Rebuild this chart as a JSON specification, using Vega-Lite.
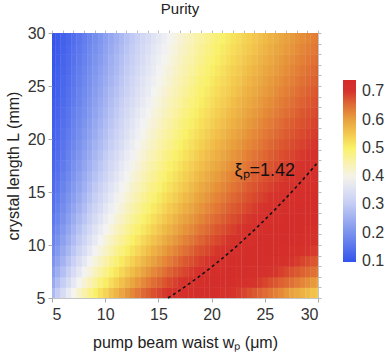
{
"$schema": "https://vega.github.io/schema/vega-lite/v6.json",
"width": 266, "height": 265,
"autosize": {"type": "none"},
"padding": {"left": 52, "top": 33, "right": 72, "bottom": 58},
"background": "white",
"config": {
 "font": "Liberation Sans",
 "view": {"stroke": "#c4c4c4", "strokeWidth": 1},
 "axis": {"labelFontSize": 16, "labelColor": "#333", "titleFontSize": 16, "titleFontWeight": "normal", "titleColor": "#222", "tickColor": "#aaa", "tickSize": 4, "domain": false, "grid": false}
},
"title": {"text": "Purity", "fontSize": 15, "fontWeight": "normal", "color": "#222", "offset": 8, "dx": -5},
"resolve": {"axis": {"x": "independent", "y": "independent"}},
"layer": [
{
"data": {"values": [
{"w":4.75,"L":5,"p":0.268},{"w":4.75,"L":6,"p":0.240},{"w":4.75,"L":7,"p":0.219},{"w":4.75,"L":8,"p":0.202},{"w":4.75,"L":9,"p":0.187},{"w":4.75,"L":10,"p":0.175},{"w":4.75,"L":11,"p":0.165},{"w":4.75,"L":12,"p":0.156},{"w":4.75,"L":13,"p":0.148},{"w":4.75,"L":14,"p":0.142},{"w":4.75,"L":15,"p":0.136},{"w":4.75,"L":16,"p":0.132},{"w":4.75,"L":17,"p":0.127},{"w":4.75,"L":18,"p":0.123},{"w":4.75,"L":19,"p":0.120},{"w":4.75,"L":20,"p":0.117},{"w":4.75,"L":21,"p":0.115},{"w":4.75,"L":22,"p":0.113},{"w":4.75,"L":23,"p":0.111},{"w":4.75,"L":24,"p":0.108},{"w":4.75,"L":25,"p":0.106},{"w":4.75,"L":26,"p":0.105},{"w":4.75,"L":27,"p":0.103},{"w":4.75,"L":28,"p":0.102},{"w":4.75,"L":29,"p":0.101},
{"w":5.25,"L":5,"p":0.303},{"w":5.25,"L":6,"p":0.273},{"w":5.25,"L":7,"p":0.248},{"w":5.25,"L":8,"p":0.229},{"w":5.25,"L":9,"p":0.212},{"w":5.25,"L":10,"p":0.199},{"w":5.25,"L":11,"p":0.187},{"w":5.25,"L":12,"p":0.176},{"w":5.25,"L":13,"p":0.168},{"w":5.25,"L":14,"p":0.161},{"w":5.25,"L":15,"p":0.154},{"w":5.25,"L":16,"p":0.147},{"w":5.25,"L":17,"p":0.142},{"w":5.25,"L":18,"p":0.138},{"w":5.25,"L":19,"p":0.133},{"w":5.25,"L":20,"p":0.129},{"w":5.25,"L":21,"p":0.126},{"w":5.25,"L":22,"p":0.123},{"w":5.25,"L":23,"p":0.120},{"w":5.25,"L":24,"p":0.118},{"w":5.25,"L":25,"p":0.116},{"w":5.25,"L":26,"p":0.114},{"w":5.25,"L":27,"p":0.112},{"w":5.25,"L":28,"p":0.110},{"w":5.25,"L":29,"p":0.109},
{"w":5.75,"L":5,"p":0.336},{"w":5.75,"L":6,"p":0.304},{"w":5.75,"L":7,"p":0.278},{"w":5.75,"L":8,"p":0.257},{"w":5.75,"L":9,"p":0.239},{"w":5.75,"L":10,"p":0.223},{"w":5.75,"L":11,"p":0.210},{"w":5.75,"L":12,"p":0.199},{"w":5.75,"L":13,"p":0.189},{"w":5.75,"L":14,"p":0.181},{"w":5.75,"L":15,"p":0.173},{"w":5.75,"L":16,"p":0.166},{"w":5.75,"L":17,"p":0.159},{"w":5.75,"L":18,"p":0.154},{"w":5.75,"L":19,"p":0.149},{"w":5.75,"L":20,"p":0.145},{"w":5.75,"L":21,"p":0.140},{"w":5.75,"L":22,"p":0.137},{"w":5.75,"L":23,"p":0.133},{"w":5.75,"L":24,"p":0.130},{"w":5.75,"L":25,"p":0.128},{"w":5.75,"L":26,"p":0.125},{"w":5.75,"L":27,"p":0.123},{"w":5.75,"L":28,"p":0.120},{"w":5.75,"L":29,"p":0.118},
{"w":6.25,"L":5,"p":0.368},{"w":6.25,"L":6,"p":0.335},{"w":6.25,"L":7,"p":0.308},{"w":6.25,"L":8,"p":0.285},{"w":6.25,"L":9,"p":0.265},{"w":6.25,"L":10,"p":0.247},{"w":6.25,"L":11,"p":0.233},{"w":6.25,"L":12,"p":0.221},{"w":6.25,"L":13,"p":0.210},{"w":6.25,"L":14,"p":0.201},{"w":6.25,"L":15,"p":0.192},{"w":6.25,"L":16,"p":0.184},{"w":6.25,"L":17,"p":0.176},{"w":6.25,"L":18,"p":0.170},{"w":6.25,"L":19,"p":0.165},{"w":6.25,"L":20,"p":0.160},{"w":6.25,"L":21,"p":0.154},{"w":6.25,"L":22,"p":0.150},{"w":6.25,"L":23,"p":0.145},{"w":6.25,"L":24,"p":0.142},{"w":6.25,"L":25,"p":0.139},{"w":6.25,"L":26,"p":0.136},{"w":6.25,"L":27,"p":0.133},{"w":6.25,"L":28,"p":0.130},{"w":6.25,"L":29,"p":0.127},
{"w":6.75,"L":5,"p":0.396},{"w":6.75,"L":6,"p":0.363},{"w":6.75,"L":7,"p":0.336},{"w":6.75,"L":8,"p":0.312},{"w":6.75,"L":9,"p":0.291},{"w":6.75,"L":10,"p":0.273},{"w":6.75,"L":11,"p":0.258},{"w":6.75,"L":12,"p":0.244},{"w":6.75,"L":13,"p":0.232},{"w":6.75,"L":14,"p":0.221},{"w":6.75,"L":15,"p":0.212},{"w":6.75,"L":16,"p":0.203},{"w":6.75,"L":17,"p":0.195},{"w":6.75,"L":18,"p":0.188},{"w":6.75,"L":19,"p":0.182},{"w":6.75,"L":20,"p":0.177},{"w":6.75,"L":21,"p":0.171},{"w":6.75,"L":22,"p":0.166},{"w":6.75,"L":23,"p":0.160},{"w":6.75,"L":24,"p":0.157},{"w":6.75,"L":25,"p":0.153},{"w":6.75,"L":26,"p":0.150},{"w":6.75,"L":27,"p":0.146},{"w":6.75,"L":28,"p":0.143},{"w":6.75,"L":29,"p":0.139},
{"w":7.25,"L":5,"p":0.423},{"w":7.25,"L":6,"p":0.391},{"w":7.25,"L":7,"p":0.363},{"w":7.25,"L":8,"p":0.338},{"w":7.25,"L":9,"p":0.317},{"w":7.25,"L":10,"p":0.298},{"w":7.25,"L":11,"p":0.282},{"w":7.25,"L":12,"p":0.267},{"w":7.25,"L":13,"p":0.253},{"w":7.25,"L":14,"p":0.241},{"w":7.25,"L":15,"p":0.231},{"w":7.25,"L":16,"p":0.222},{"w":7.25,"L":17,"p":0.213},{"w":7.25,"L":18,"p":0.206},{"w":7.25,"L":19,"p":0.199},{"w":7.25,"L":20,"p":0.193},{"w":7.25,"L":21,"p":0.187},{"w":7.25,"L":22,"p":0.181},{"w":7.25,"L":23,"p":0.175},{"w":7.25,"L":24,"p":0.171},{"w":7.25,"L":25,"p":0.167},{"w":7.25,"L":26,"p":0.163},{"w":7.25,"L":27,"p":0.159},{"w":7.25,"L":28,"p":0.155},{"w":7.25,"L":29,"p":0.151},
{"w":7.75,"L":5,"p":0.449},{"w":7.75,"L":6,"p":0.416},{"w":7.75,"L":7,"p":0.388},{"w":7.75,"L":8,"p":0.363},{"w":7.75,"L":9,"p":0.342},{"w":7.75,"L":10,"p":0.322},{"w":7.75,"L":11,"p":0.306},{"w":7.75,"L":12,"p":0.290},{"w":7.75,"L":13,"p":0.276},{"w":7.75,"L":14,"p":0.263},{"w":7.75,"L":15,"p":0.252},{"w":7.75,"L":16,"p":0.242},{"w":7.75,"L":17,"p":0.233},{"w":7.75,"L":18,"p":0.225},{"w":7.75,"L":19,"p":0.217},{"w":7.75,"L":20,"p":0.210},{"w":7.75,"L":21,"p":0.204},{"w":7.75,"L":22,"p":0.197},{"w":7.75,"L":23,"p":0.192},{"w":7.75,"L":24,"p":0.187},{"w":7.75,"L":25,"p":0.182},{"w":7.75,"L":26,"p":0.178},{"w":7.75,"L":27,"p":0.173},{"w":7.75,"L":28,"p":0.169},{"w":7.75,"L":29,"p":0.165},
{"w":8.25,"L":5,"p":0.475},{"w":8.25,"L":6,"p":0.440},{"w":8.25,"L":7,"p":0.412},{"w":8.25,"L":8,"p":0.388},{"w":8.25,"L":9,"p":0.366},{"w":8.25,"L":10,"p":0.346},{"w":8.25,"L":11,"p":0.329},{"w":8.25,"L":12,"p":0.313},{"w":8.25,"L":13,"p":0.298},{"w":8.25,"L":14,"p":0.285},{"w":8.25,"L":15,"p":0.273},{"w":8.25,"L":16,"p":0.262},{"w":8.25,"L":17,"p":0.252},{"w":8.25,"L":18,"p":0.243},{"w":8.25,"L":19,"p":0.235},{"w":8.25,"L":20,"p":0.227},{"w":8.25,"L":21,"p":0.220},{"w":8.25,"L":22,"p":0.213},{"w":8.25,"L":23,"p":0.208},{"w":8.25,"L":24,"p":0.202},{"w":8.25,"L":25,"p":0.197},{"w":8.25,"L":26,"p":0.192},{"w":8.25,"L":27,"p":0.187},{"w":8.25,"L":28,"p":0.183},{"w":8.25,"L":29,"p":0.178},
{"w":8.75,"L":5,"p":0.497},{"w":8.75,"L":6,"p":0.463},{"w":8.75,"L":7,"p":0.434},{"w":8.75,"L":8,"p":0.410},{"w":8.75,"L":9,"p":0.388},{"w":8.75,"L":10,"p":0.368},{"w":8.75,"L":11,"p":0.351},{"w":8.75,"L":12,"p":0.335},{"w":8.75,"L":13,"p":0.319},{"w":8.75,"L":14,"p":0.306},{"w":8.75,"L":15,"p":0.294},{"w":8.75,"L":16,"p":0.282},{"w":8.75,"L":17,"p":0.272},{"w":8.75,"L":18,"p":0.262},{"w":8.75,"L":19,"p":0.254},{"w":8.75,"L":20,"p":0.245},{"w":8.75,"L":21,"p":0.238},{"w":8.75,"L":22,"p":0.230},{"w":8.75,"L":23,"p":0.224},{"w":8.75,"L":24,"p":0.218},{"w":8.75,"L":25,"p":0.213},{"w":8.75,"L":26,"p":0.207},{"w":8.75,"L":27,"p":0.202},{"w":8.75,"L":28,"p":0.197},{"w":8.75,"L":29,"p":0.193},
{"w":9.25,"L":5,"p":0.518},{"w":9.25,"L":6,"p":0.486},{"w":9.25,"L":7,"p":0.456},{"w":9.25,"L":8,"p":0.431},{"w":9.25,"L":9,"p":0.409},{"w":9.25,"L":10,"p":0.390},{"w":9.25,"L":11,"p":0.372},{"w":9.25,"L":12,"p":0.356},{"w":9.25,"L":13,"p":0.340},{"w":9.25,"L":14,"p":0.327},{"w":9.25,"L":15,"p":0.314},{"w":9.25,"L":16,"p":0.302},{"w":9.25,"L":17,"p":0.291},{"w":9.25,"L":18,"p":0.281},{"w":9.25,"L":19,"p":0.272},{"w":9.25,"L":20,"p":0.263},{"w":9.25,"L":21,"p":0.255},{"w":9.25,"L":22,"p":0.247},{"w":9.25,"L":23,"p":0.240},{"w":9.25,"L":24,"p":0.234},{"w":9.25,"L":25,"p":0.228},{"w":9.25,"L":26,"p":0.222},{"w":9.25,"L":27,"p":0.216},{"w":9.25,"L":28,"p":0.211},{"w":9.25,"L":29,"p":0.207},
{"w":9.75,"L":5,"p":0.537},{"w":9.75,"L":6,"p":0.505},{"w":9.75,"L":7,"p":0.477},{"w":9.75,"L":8,"p":0.452},{"w":9.75,"L":9,"p":0.429},{"w":9.75,"L":10,"p":0.410},{"w":9.75,"L":11,"p":0.392},{"w":9.75,"L":12,"p":0.376},{"w":9.75,"L":13,"p":0.360},{"w":9.75,"L":14,"p":0.347},{"w":9.75,"L":15,"p":0.334},{"w":9.75,"L":16,"p":0.321},{"w":9.75,"L":17,"p":0.310},{"w":9.75,"L":18,"p":0.300},{"w":9.75,"L":19,"p":0.290},{"w":9.75,"L":20,"p":0.281},{"w":9.75,"L":21,"p":0.273},{"w":9.75,"L":22,"p":0.265},{"w":9.75,"L":23,"p":0.257},{"w":9.75,"L":24,"p":0.251},{"w":9.75,"L":25,"p":0.244},{"w":9.75,"L":26,"p":0.238},{"w":9.75,"L":27,"p":0.232},{"w":9.75,"L":28,"p":0.226},{"w":9.75,"L":29,"p":0.222},
{"w":10.25,"L":5,"p":0.556},{"w":10.25,"L":6,"p":0.524},{"w":10.25,"L":7,"p":0.497},{"w":10.25,"L":8,"p":0.472},{"w":10.25,"L":9,"p":0.449},{"w":10.25,"L":10,"p":0.429},{"w":10.25,"L":11,"p":0.411},{"w":10.25,"L":12,"p":0.395},{"w":10.25,"L":13,"p":0.379},{"w":10.25,"L":14,"p":0.366},{"w":10.25,"L":15,"p":0.353},{"w":10.25,"L":16,"p":0.340},{"w":10.25,"L":17,"p":0.329},{"w":10.25,"L":18,"p":0.318},{"w":10.25,"L":19,"p":0.308},{"w":10.25,"L":20,"p":0.299},{"w":10.25,"L":21,"p":0.290},{"w":10.25,"L":22,"p":0.282},{"w":10.25,"L":23,"p":0.274},{"w":10.25,"L":24,"p":0.267},{"w":10.25,"L":25,"p":0.259},{"w":10.25,"L":26,"p":0.253},{"w":10.25,"L":27,"p":0.247},{"w":10.25,"L":28,"p":0.241},{"w":10.25,"L":29,"p":0.236},
{"w":10.75,"L":5,"p":0.575},{"w":10.75,"L":6,"p":0.542},{"w":10.75,"L":7,"p":0.514},{"w":10.75,"L":8,"p":0.490},{"w":10.75,"L":9,"p":0.468},{"w":10.75,"L":10,"p":0.448},{"w":10.75,"L":11,"p":0.429},{"w":10.75,"L":12,"p":0.413},{"w":10.75,"L":13,"p":0.397},{"w":10.75,"L":14,"p":0.384},{"w":10.75,"L":15,"p":0.371},{"w":10.75,"L":16,"p":0.358},{"w":10.75,"L":17,"p":0.347},{"w":10.75,"L":18,"p":0.336},{"w":10.75,"L":19,"p":0.326},{"w":10.75,"L":20,"p":0.316},{"w":10.75,"L":21,"p":0.307},{"w":10.75,"L":22,"p":0.299},{"w":10.75,"L":23,"p":0.291},{"w":10.75,"L":24,"p":0.283},{"w":10.75,"L":25,"p":0.276},{"w":10.75,"L":26,"p":0.269},{"w":10.75,"L":27,"p":0.263},{"w":10.75,"L":28,"p":0.257},{"w":10.75,"L":29,"p":0.251},
{"w":11.25,"L":5,"p":0.593},{"w":11.25,"L":6,"p":0.559},{"w":11.25,"L":7,"p":0.531},{"w":11.25,"L":8,"p":0.508},{"w":11.25,"L":9,"p":0.486},{"w":11.25,"L":10,"p":0.466},{"w":11.25,"L":11,"p":0.447},{"w":11.25,"L":12,"p":0.430},{"w":11.25,"L":13,"p":0.415},{"w":11.25,"L":14,"p":0.401},{"w":11.25,"L":15,"p":0.388},{"w":11.25,"L":16,"p":0.376},{"w":11.25,"L":17,"p":0.365},{"w":11.25,"L":18,"p":0.354},{"w":11.25,"L":19,"p":0.343},{"w":11.25,"L":20,"p":0.333},{"w":11.25,"L":21,"p":0.324},{"w":11.25,"L":22,"p":0.316},{"w":11.25,"L":23,"p":0.307},{"w":11.25,"L":24,"p":0.299},{"w":11.25,"L":25,"p":0.292},{"w":11.25,"L":26,"p":0.285},{"w":11.25,"L":27,"p":0.279},{"w":11.25,"L":28,"p":0.272},{"w":11.25,"L":29,"p":0.266},
{"w":11.75,"L":5,"p":0.609},{"w":11.75,"L":6,"p":0.576},{"w":11.75,"L":7,"p":0.548},{"w":11.75,"L":8,"p":0.524},{"w":11.75,"L":9,"p":0.502},{"w":11.75,"L":10,"p":0.483},{"w":11.75,"L":11,"p":0.464},{"w":11.75,"L":12,"p":0.447},{"w":11.75,"L":13,"p":0.432},{"w":11.75,"L":14,"p":0.418},{"w":11.75,"L":15,"p":0.405},{"w":11.75,"L":16,"p":0.392},{"w":11.75,"L":17,"p":0.381},{"w":11.75,"L":18,"p":0.370},{"w":11.75,"L":19,"p":0.360},{"w":11.75,"L":20,"p":0.350},{"w":11.75,"L":21,"p":0.341},{"w":11.75,"L":22,"p":0.332},{"w":11.75,"L":23,"p":0.323},{"w":11.75,"L":24,"p":0.315},{"w":11.75,"L":25,"p":0.308},{"w":11.75,"L":26,"p":0.301},{"w":11.75,"L":27,"p":0.294},{"w":11.75,"L":28,"p":0.288},{"w":11.75,"L":29,"p":0.281},
{"w":12.25,"L":5,"p":0.625},{"w":12.25,"L":6,"p":0.593},{"w":12.25,"L":7,"p":0.564},{"w":12.25,"L":8,"p":0.539},{"w":12.25,"L":9,"p":0.518},{"w":12.25,"L":10,"p":0.499},{"w":12.25,"L":11,"p":0.481},{"w":12.25,"L":12,"p":0.464},{"w":12.25,"L":13,"p":0.448},{"w":12.25,"L":14,"p":0.434},{"w":12.25,"L":15,"p":0.421},{"w":12.25,"L":16,"p":0.408},{"w":12.25,"L":17,"p":0.397},{"w":12.25,"L":18,"p":0.386},{"w":12.25,"L":19,"p":0.376},{"w":12.25,"L":20,"p":0.366},{"w":12.25,"L":21,"p":0.357},{"w":12.25,"L":22,"p":0.348},{"w":12.25,"L":23,"p":0.339},{"w":12.25,"L":24,"p":0.331},{"w":12.25,"L":25,"p":0.324},{"w":12.25,"L":26,"p":0.316},{"w":12.25,"L":27,"p":0.309},{"w":12.25,"L":28,"p":0.303},{"w":12.25,"L":29,"p":0.296},
{"w":12.75,"L":5,"p":0.640},{"w":12.75,"L":6,"p":0.608},{"w":12.75,"L":7,"p":0.580},{"w":12.75,"L":8,"p":0.555},{"w":12.75,"L":9,"p":0.533},{"w":12.75,"L":10,"p":0.514},{"w":12.75,"L":11,"p":0.496},{"w":12.75,"L":12,"p":0.480},{"w":12.75,"L":13,"p":0.464},{"w":12.75,"L":14,"p":0.450},{"w":12.75,"L":15,"p":0.436},{"w":12.75,"L":16,"p":0.424},{"w":12.75,"L":17,"p":0.412},{"w":12.75,"L":18,"p":0.401},{"w":12.75,"L":19,"p":0.391},{"w":12.75,"L":20,"p":0.381},{"w":12.75,"L":21,"p":0.372},{"w":12.75,"L":22,"p":0.363},{"w":12.75,"L":23,"p":0.354},{"w":12.75,"L":24,"p":0.346},{"w":12.75,"L":25,"p":0.339},{"w":12.75,"L":26,"p":0.331},{"w":12.75,"L":27,"p":0.324},{"w":12.75,"L":28,"p":0.318},{"w":12.75,"L":29,"p":0.311},
{"w":13.25,"L":5,"p":0.655},{"w":13.25,"L":6,"p":0.623},{"w":13.25,"L":7,"p":0.595},{"w":13.25,"L":8,"p":0.571},{"w":13.25,"L":9,"p":0.548},{"w":13.25,"L":10,"p":0.529},{"w":13.25,"L":11,"p":0.511},{"w":13.25,"L":12,"p":0.495},{"w":13.25,"L":13,"p":0.480},{"w":13.25,"L":14,"p":0.465},{"w":13.25,"L":15,"p":0.451},{"w":13.25,"L":16,"p":0.439},{"w":13.25,"L":17,"p":0.427},{"w":13.25,"L":18,"p":0.416},{"w":13.25,"L":19,"p":0.406},{"w":13.25,"L":20,"p":0.396},{"w":13.25,"L":21,"p":0.387},{"w":13.25,"L":22,"p":0.378},{"w":13.25,"L":23,"p":0.369},{"w":13.25,"L":24,"p":0.361},{"w":13.25,"L":25,"p":0.354},{"w":13.25,"L":26,"p":0.346},{"w":13.25,"L":27,"p":0.339},{"w":13.25,"L":28,"p":0.332},{"w":13.25,"L":29,"p":0.325},
{"w":13.75,"L":5,"p":0.667},{"w":13.75,"L":6,"p":0.637},{"w":13.75,"L":7,"p":0.609},{"w":13.75,"L":8,"p":0.585},{"w":13.75,"L":9,"p":0.563},{"w":13.75,"L":10,"p":0.543},{"w":13.75,"L":11,"p":0.525},{"w":13.75,"L":12,"p":0.509},{"w":13.75,"L":13,"p":0.494},{"w":13.75,"L":14,"p":0.480},{"w":13.75,"L":15,"p":0.466},{"w":13.75,"L":16,"p":0.454},{"w":13.75,"L":17,"p":0.442},{"w":13.75,"L":18,"p":0.431},{"w":13.75,"L":19,"p":0.420},{"w":13.75,"L":20,"p":0.410},{"w":13.75,"L":21,"p":0.401},{"w":13.75,"L":22,"p":0.392},{"w":13.75,"L":23,"p":0.384},{"w":13.75,"L":24,"p":0.375},{"w":13.75,"L":25,"p":0.368},{"w":13.75,"L":26,"p":0.360},{"w":13.75,"L":27,"p":0.353},{"w":13.75,"L":28,"p":0.346},{"w":13.75,"L":29,"p":0.339},
{"w":14.25,"L":5,"p":0.679},{"w":14.25,"L":6,"p":0.650},{"w":14.25,"L":7,"p":0.623},{"w":14.25,"L":8,"p":0.599},{"w":14.25,"L":9,"p":0.577},{"w":14.25,"L":10,"p":0.556},{"w":14.25,"L":11,"p":0.538},{"w":14.25,"L":12,"p":0.523},{"w":14.25,"L":13,"p":0.508},{"w":14.25,"L":14,"p":0.494},{"w":14.25,"L":15,"p":0.481},{"w":14.25,"L":16,"p":0.468},{"w":14.25,"L":17,"p":0.456},{"w":14.25,"L":18,"p":0.445},{"w":14.25,"L":19,"p":0.434},{"w":14.25,"L":20,"p":0.424},{"w":14.25,"L":21,"p":0.415},{"w":14.25,"L":22,"p":0.406},{"w":14.25,"L":23,"p":0.398},{"w":14.25,"L":24,"p":0.389},{"w":14.25,"L":25,"p":0.381},{"w":14.25,"L":26,"p":0.374},{"w":14.25,"L":27,"p":0.367},{"w":14.25,"L":28,"p":0.360},{"w":14.25,"L":29,"p":0.353},
{"w":14.75,"L":5,"p":0.688},{"w":14.75,"L":6,"p":0.662},{"w":14.75,"L":7,"p":0.636},{"w":14.75,"L":8,"p":0.612},{"w":14.75,"L":9,"p":0.590},{"w":14.75,"L":10,"p":0.570},{"w":14.75,"L":11,"p":0.552},{"w":14.75,"L":12,"p":0.536},{"w":14.75,"L":13,"p":0.521},{"w":14.75,"L":14,"p":0.507},{"w":14.75,"L":15,"p":0.494},{"w":14.75,"L":16,"p":0.482},{"w":14.75,"L":17,"p":0.470},{"w":14.75,"L":18,"p":0.459},{"w":14.75,"L":19,"p":0.448},{"w":14.75,"L":20,"p":0.438},{"w":14.75,"L":21,"p":0.428},{"w":14.75,"L":22,"p":0.419},{"w":14.75,"L":23,"p":0.411},{"w":14.75,"L":24,"p":0.402},{"w":14.75,"L":25,"p":0.394},{"w":14.75,"L":26,"p":0.387},{"w":14.75,"L":27,"p":0.380},{"w":14.75,"L":28,"p":0.373},{"w":14.75,"L":29,"p":0.366},
{"w":15.25,"L":5,"p":0.696},{"w":15.25,"L":6,"p":0.674},{"w":15.25,"L":7,"p":0.648},{"w":15.25,"L":8,"p":0.624},{"w":15.25,"L":9,"p":0.603},{"w":15.25,"L":10,"p":0.584},{"w":15.25,"L":11,"p":0.565},{"w":15.25,"L":12,"p":0.548},{"w":15.25,"L":13,"p":0.533},{"w":15.25,"L":14,"p":0.520},{"w":15.25,"L":15,"p":0.507},{"w":15.25,"L":16,"p":0.495},{"w":15.25,"L":17,"p":0.483},{"w":15.25,"L":18,"p":0.472},{"w":15.25,"L":19,"p":0.461},{"w":15.25,"L":20,"p":0.451},{"w":15.25,"L":21,"p":0.441},{"w":15.25,"L":22,"p":0.432},{"w":15.25,"L":23,"p":0.423},{"w":15.25,"L":24,"p":0.415},{"w":15.25,"L":25,"p":0.407},{"w":15.25,"L":26,"p":0.400},{"w":15.25,"L":27,"p":0.393},{"w":15.25,"L":28,"p":0.386},{"w":15.25,"L":29,"p":0.379},
{"w":15.75,"L":5,"p":0.704},{"w":15.75,"L":6,"p":0.683},{"w":15.75,"L":7,"p":0.660},{"w":15.75,"L":8,"p":0.636},{"w":15.75,"L":9,"p":0.615},{"w":15.75,"L":10,"p":0.596},{"w":15.75,"L":11,"p":0.578},{"w":15.75,"L":12,"p":0.561},{"w":15.75,"L":13,"p":0.546},{"w":15.75,"L":14,"p":0.532},{"w":15.75,"L":15,"p":0.519},{"w":15.75,"L":16,"p":0.507},{"w":15.75,"L":17,"p":0.496},{"w":15.75,"L":18,"p":0.485},{"w":15.75,"L":19,"p":0.474},{"w":15.75,"L":20,"p":0.464},{"w":15.75,"L":21,"p":0.454},{"w":15.75,"L":22,"p":0.445},{"w":15.75,"L":23,"p":0.436},{"w":15.75,"L":24,"p":0.428},{"w":15.75,"L":25,"p":0.420},{"w":15.75,"L":26,"p":0.412},{"w":15.75,"L":27,"p":0.405},{"w":15.75,"L":28,"p":0.398},{"w":15.75,"L":29,"p":0.391},
{"w":16.25,"L":5,"p":0.711},{"w":16.25,"L":6,"p":0.691},{"w":16.25,"L":7,"p":0.672},{"w":16.25,"L":8,"p":0.648},{"w":16.25,"L":9,"p":0.627},{"w":16.25,"L":10,"p":0.608},{"w":16.25,"L":11,"p":0.590},{"w":16.25,"L":12,"p":0.574},{"w":16.25,"L":13,"p":0.558},{"w":16.25,"L":14,"p":0.543},{"w":16.25,"L":15,"p":0.531},{"w":16.25,"L":16,"p":0.519},{"w":16.25,"L":17,"p":0.508},{"w":16.25,"L":18,"p":0.497},{"w":16.25,"L":19,"p":0.487},{"w":16.25,"L":20,"p":0.477},{"w":16.25,"L":21,"p":0.467},{"w":16.25,"L":22,"p":0.457},{"w":16.25,"L":23,"p":0.448},{"w":16.25,"L":24,"p":0.440},{"w":16.25,"L":25,"p":0.432},{"w":16.25,"L":26,"p":0.424},{"w":16.25,"L":27,"p":0.417},{"w":16.25,"L":28,"p":0.410},{"w":16.25,"L":29,"p":0.403},
{"w":16.75,"L":5,"p":0.716},{"w":16.75,"L":6,"p":0.699},{"w":16.75,"L":7,"p":0.680},{"w":16.75,"L":8,"p":0.660},{"w":16.75,"L":9,"p":0.638},{"w":16.75,"L":10,"p":0.619},{"w":16.75,"L":11,"p":0.602},{"w":16.75,"L":12,"p":0.586},{"w":16.75,"L":13,"p":0.570},{"w":16.75,"L":14,"p":0.555},{"w":16.75,"L":15,"p":0.542},{"w":16.75,"L":16,"p":0.530},{"w":16.75,"L":17,"p":0.519},{"w":16.75,"L":18,"p":0.508},{"w":16.75,"L":19,"p":0.499},{"w":16.75,"L":20,"p":0.489},{"w":16.75,"L":21,"p":0.479},{"w":16.75,"L":22,"p":0.470},{"w":16.75,"L":23,"p":0.461},{"w":16.75,"L":24,"p":0.452},{"w":16.75,"L":25,"p":0.444},{"w":16.75,"L":26,"p":0.436},{"w":16.75,"L":27,"p":0.429},{"w":16.75,"L":28,"p":0.422},{"w":16.75,"L":29,"p":0.415},
{"w":17.25,"L":5,"p":0.720},{"w":17.25,"L":6,"p":0.706},{"w":17.25,"L":7,"p":0.688},{"w":17.25,"L":8,"p":0.671},{"w":17.25,"L":9,"p":0.649},{"w":17.25,"L":10,"p":0.630},{"w":17.25,"L":11,"p":0.613},{"w":17.25,"L":12,"p":0.597},{"w":17.25,"L":13,"p":0.582},{"w":17.25,"L":14,"p":0.567},{"w":17.25,"L":15,"p":0.553},{"w":17.25,"L":16,"p":0.541},{"w":17.25,"L":17,"p":0.530},{"w":17.25,"L":18,"p":0.519},{"w":17.25,"L":19,"p":0.510},{"w":17.25,"L":20,"p":0.500},{"w":17.25,"L":21,"p":0.491},{"w":17.25,"L":22,"p":0.482},{"w":17.25,"L":23,"p":0.473},{"w":17.25,"L":24,"p":0.464},{"w":17.25,"L":25,"p":0.456},{"w":17.25,"L":26,"p":0.448},{"w":17.25,"L":27,"p":0.441},{"w":17.25,"L":28,"p":0.433},{"w":17.25,"L":29,"p":0.427},
{"w":17.75,"L":5,"p":0.722},{"w":17.75,"L":6,"p":0.711},{"w":17.75,"L":7,"p":0.695},{"w":17.75,"L":8,"p":0.679},{"w":17.75,"L":9,"p":0.660},{"w":17.75,"L":10,"p":0.641},{"w":17.75,"L":11,"p":0.624},{"w":17.75,"L":12,"p":0.608},{"w":17.75,"L":13,"p":0.593},{"w":17.75,"L":14,"p":0.579},{"w":17.75,"L":15,"p":0.565},{"w":17.75,"L":16,"p":0.553},{"w":17.75,"L":17,"p":0.541},{"w":17.75,"L":18,"p":0.530},{"w":17.75,"L":19,"p":0.521},{"w":17.75,"L":20,"p":0.511},{"w":17.75,"L":21,"p":0.502},{"w":17.75,"L":22,"p":0.493},{"w":17.75,"L":23,"p":0.484},{"w":17.75,"L":24,"p":0.476},{"w":17.75,"L":25,"p":0.468},{"w":17.75,"L":26,"p":0.460},{"w":17.75,"L":27,"p":0.452},{"w":17.75,"L":28,"p":0.445},{"w":17.75,"L":29,"p":0.438},
{"w":18.25,"L":5,"p":0.723},{"w":18.25,"L":6,"p":0.716},{"w":18.25,"L":7,"p":0.702},{"w":18.25,"L":8,"p":0.686},{"w":18.25,"L":9,"p":0.671},{"w":18.25,"L":10,"p":0.651},{"w":18.25,"L":11,"p":0.634},{"w":18.25,"L":12,"p":0.618},{"w":18.25,"L":13,"p":0.603},{"w":18.25,"L":14,"p":0.590},{"w":18.25,"L":15,"p":0.576},{"w":18.25,"L":16,"p":0.564},{"w":18.25,"L":17,"p":0.551},{"w":18.25,"L":18,"p":0.541},{"w":18.25,"L":19,"p":0.531},{"w":18.25,"L":20,"p":0.521},{"w":18.25,"L":21,"p":0.512},{"w":18.25,"L":22,"p":0.503},{"w":18.25,"L":23,"p":0.495},{"w":18.25,"L":24,"p":0.487},{"w":18.25,"L":25,"p":0.479},{"w":18.25,"L":26,"p":0.471},{"w":18.25,"L":27,"p":0.463},{"w":18.25,"L":28,"p":0.456},{"w":18.25,"L":29,"p":0.449},
{"w":18.75,"L":5,"p":0.723},{"w":18.75,"L":6,"p":0.719},{"w":18.75,"L":7,"p":0.708},{"w":18.75,"L":8,"p":0.693},{"w":18.75,"L":9,"p":0.678},{"w":18.75,"L":10,"p":0.661},{"w":18.75,"L":11,"p":0.644},{"w":18.75,"L":12,"p":0.628},{"w":18.75,"L":13,"p":0.613},{"w":18.75,"L":14,"p":0.600},{"w":18.75,"L":15,"p":0.587},{"w":18.75,"L":16,"p":0.575},{"w":18.75,"L":17,"p":0.562},{"w":18.75,"L":18,"p":0.552},{"w":18.75,"L":19,"p":0.541},{"w":18.75,"L":20,"p":0.531},{"w":18.75,"L":21,"p":0.522},{"w":18.75,"L":22,"p":0.513},{"w":18.75,"L":23,"p":0.505},{"w":18.75,"L":24,"p":0.497},{"w":18.75,"L":25,"p":0.490},{"w":18.75,"L":26,"p":0.482},{"w":18.75,"L":27,"p":0.474},{"w":18.75,"L":28,"p":0.467},{"w":18.75,"L":29,"p":0.460},
{"w":19.25,"L":5,"p":0.723},{"w":19.25,"L":6,"p":0.722},{"w":19.25,"L":7,"p":0.713},{"w":19.25,"L":8,"p":0.699},{"w":19.25,"L":9,"p":0.685},{"w":19.25,"L":10,"p":0.671},{"w":19.25,"L":11,"p":0.654},{"w":19.25,"L":12,"p":0.638},{"w":19.25,"L":13,"p":0.623},{"w":19.25,"L":14,"p":0.610},{"w":19.25,"L":15,"p":0.597},{"w":19.25,"L":16,"p":0.585},{"w":19.25,"L":17,"p":0.573},{"w":19.25,"L":18,"p":0.562},{"w":19.25,"L":19,"p":0.551},{"w":19.25,"L":20,"p":0.541},{"w":19.25,"L":21,"p":0.532},{"w":19.25,"L":22,"p":0.523},{"w":19.25,"L":23,"p":0.515},{"w":19.25,"L":24,"p":0.507},{"w":19.25,"L":25,"p":0.500},{"w":19.25,"L":26,"p":0.492},{"w":19.25,"L":27,"p":0.485},{"w":19.25,"L":28,"p":0.478},{"w":19.25,"L":29,"p":0.471},
{"w":19.75,"L":5,"p":0.721},{"w":19.75,"L":6,"p":0.723},{"w":19.75,"L":7,"p":0.717},{"w":19.75,"L":8,"p":0.705},{"w":19.75,"L":9,"p":0.692},{"w":19.75,"L":10,"p":0.678},{"w":19.75,"L":11,"p":0.664},{"w":19.75,"L":12,"p":0.648},{"w":19.75,"L":13,"p":0.633},{"w":19.75,"L":14,"p":0.620},{"w":19.75,"L":15,"p":0.607},{"w":19.75,"L":16,"p":0.595},{"w":19.75,"L":17,"p":0.583},{"w":19.75,"L":18,"p":0.572},{"w":19.75,"L":19,"p":0.562},{"w":19.75,"L":20,"p":0.551},{"w":19.75,"L":21,"p":0.542},{"w":19.75,"L":22,"p":0.533},{"w":19.75,"L":23,"p":0.525},{"w":19.75,"L":24,"p":0.517},{"w":19.75,"L":25,"p":0.510},{"w":19.75,"L":26,"p":0.502},{"w":19.75,"L":27,"p":0.495},{"w":19.75,"L":28,"p":0.488},{"w":19.75,"L":29,"p":0.481},
{"w":20.25,"L":5,"p":0.718},{"w":20.25,"L":6,"p":0.724},{"w":20.25,"L":7,"p":0.720},{"w":20.25,"L":8,"p":0.711},{"w":20.25,"L":9,"p":0.698},{"w":20.25,"L":10,"p":0.685},{"w":20.25,"L":11,"p":0.673},{"w":20.25,"L":12,"p":0.657},{"w":20.25,"L":13,"p":0.642},{"w":20.25,"L":14,"p":0.629},{"w":20.25,"L":15,"p":0.616},{"w":20.25,"L":16,"p":0.604},{"w":20.25,"L":17,"p":0.593},{"w":20.25,"L":18,"p":0.582},{"w":20.25,"L":19,"p":0.572},{"w":20.25,"L":20,"p":0.561},{"w":20.25,"L":21,"p":0.551},{"w":20.25,"L":22,"p":0.542},{"w":20.25,"L":23,"p":0.534},{"w":20.25,"L":24,"p":0.526},{"w":20.25,"L":25,"p":0.519},{"w":20.25,"L":26,"p":0.511},{"w":20.25,"L":27,"p":0.504},{"w":20.25,"L":28,"p":0.497},{"w":20.25,"L":29,"p":0.491},
{"w":20.75,"L":5,"p":0.713},{"w":20.75,"L":6,"p":0.723},{"w":20.75,"L":7,"p":0.722},{"w":20.75,"L":8,"p":0.715},{"w":20.75,"L":9,"p":0.704},{"w":20.75,"L":10,"p":0.692},{"w":20.75,"L":11,"p":0.680},{"w":20.75,"L":12,"p":0.666},{"w":20.75,"L":13,"p":0.652},{"w":20.75,"L":14,"p":0.638},{"w":20.75,"L":15,"p":0.625},{"w":20.75,"L":16,"p":0.614},{"w":20.75,"L":17,"p":0.602},{"w":20.75,"L":18,"p":0.592},{"w":20.75,"L":19,"p":0.582},{"w":20.75,"L":20,"p":0.571},{"w":20.75,"L":21,"p":0.561},{"w":20.75,"L":22,"p":0.552},{"w":20.75,"L":23,"p":0.543},{"w":20.75,"L":24,"p":0.535},{"w":20.75,"L":25,"p":0.528},{"w":20.75,"L":26,"p":0.521},{"w":20.75,"L":27,"p":0.514},{"w":20.75,"L":28,"p":0.507},{"w":20.75,"L":29,"p":0.500},
{"w":21.25,"L":5,"p":0.708},{"w":21.25,"L":6,"p":0.722},{"w":21.25,"L":7,"p":0.723},{"w":21.25,"L":8,"p":0.718},{"w":21.25,"L":9,"p":0.709},{"w":21.25,"L":10,"p":0.698},{"w":21.25,"L":11,"p":0.686},{"w":21.25,"L":12,"p":0.674},{"w":21.25,"L":13,"p":0.661},{"w":21.25,"L":14,"p":0.647},{"w":21.25,"L":15,"p":0.634},{"w":21.25,"L":16,"p":0.623},{"w":21.25,"L":17,"p":0.611},{"w":21.25,"L":18,"p":0.601},{"w":21.25,"L":19,"p":0.591},{"w":21.25,"L":20,"p":0.581},{"w":21.25,"L":21,"p":0.571},{"w":21.25,"L":22,"p":0.562},{"w":21.25,"L":23,"p":0.552},{"w":21.25,"L":24,"p":0.544},{"w":21.25,"L":25,"p":0.537},{"w":21.25,"L":26,"p":0.530},{"w":21.25,"L":27,"p":0.523},{"w":21.25,"L":28,"p":0.516},{"w":21.25,"L":29,"p":0.509},
{"w":21.75,"L":5,"p":0.702},{"w":21.75,"L":6,"p":0.719},{"w":21.75,"L":7,"p":0.723},{"w":21.75,"L":8,"p":0.721},{"w":21.75,"L":9,"p":0.713},{"w":21.75,"L":10,"p":0.703},{"w":21.75,"L":11,"p":0.692},{"w":21.75,"L":12,"p":0.681},{"w":21.75,"L":13,"p":0.669},{"w":21.75,"L":14,"p":0.656},{"w":21.75,"L":15,"p":0.643},{"w":21.75,"L":16,"p":0.632},{"w":21.75,"L":17,"p":0.620},{"w":21.75,"L":18,"p":0.610},{"w":21.75,"L":19,"p":0.600},{"w":21.75,"L":20,"p":0.590},{"w":21.75,"L":21,"p":0.580},{"w":21.75,"L":22,"p":0.571},{"w":21.75,"L":23,"p":0.562},{"w":21.75,"L":24,"p":0.554},{"w":21.75,"L":25,"p":0.546},{"w":21.75,"L":26,"p":0.539},{"w":21.75,"L":27,"p":0.532},{"w":21.75,"L":28,"p":0.525},{"w":21.75,"L":29,"p":0.518},
{"w":22.25,"L":5,"p":0.695},{"w":22.25,"L":6,"p":0.716},{"w":22.25,"L":7,"p":0.723},{"w":22.25,"L":8,"p":0.723},{"w":22.25,"L":9,"p":0.717},{"w":22.25,"L":10,"p":0.708},{"w":22.25,"L":11,"p":0.698},{"w":22.25,"L":12,"p":0.687},{"w":22.25,"L":13,"p":0.676},{"w":22.25,"L":14,"p":0.665},{"w":22.25,"L":15,"p":0.652},{"w":22.25,"L":16,"p":0.640},{"w":22.25,"L":17,"p":0.629},{"w":22.25,"L":18,"p":0.618},{"w":22.25,"L":19,"p":0.608},{"w":22.25,"L":20,"p":0.599},{"w":22.25,"L":21,"p":0.589},{"w":22.25,"L":22,"p":0.580},{"w":22.25,"L":23,"p":0.572},{"w":22.25,"L":24,"p":0.563},{"w":22.25,"L":25,"p":0.554},{"w":22.25,"L":26,"p":0.547},{"w":22.25,"L":27,"p":0.540},{"w":22.25,"L":28,"p":0.533},{"w":22.25,"L":29,"p":0.526},
{"w":22.75,"L":5,"p":0.687},{"w":22.75,"L":6,"p":0.712},{"w":22.75,"L":7,"p":0.722},{"w":22.75,"L":8,"p":0.724},{"w":22.75,"L":9,"p":0.720},{"w":22.75,"L":10,"p":0.712},{"w":22.75,"L":11,"p":0.703},{"w":22.75,"L":12,"p":0.693},{"w":22.75,"L":13,"p":0.682},{"w":22.75,"L":14,"p":0.672},{"w":22.75,"L":15,"p":0.661},{"w":22.75,"L":16,"p":0.649},{"w":22.75,"L":17,"p":0.637},{"w":22.75,"L":18,"p":0.627},{"w":22.75,"L":19,"p":0.617},{"w":22.75,"L":20,"p":0.607},{"w":22.75,"L":21,"p":0.598},{"w":22.75,"L":22,"p":0.589},{"w":22.75,"L":23,"p":0.581},{"w":22.75,"L":24,"p":0.572},{"w":22.75,"L":25,"p":0.564},{"w":22.75,"L":26,"p":0.556},{"w":22.75,"L":27,"p":0.549},{"w":22.75,"L":28,"p":0.541},{"w":22.75,"L":29,"p":0.535},
{"w":23.25,"L":5,"p":0.678},{"w":23.25,"L":6,"p":0.707},{"w":23.25,"L":7,"p":0.720},{"w":23.25,"L":8,"p":0.724},{"w":23.25,"L":9,"p":0.722},{"w":23.25,"L":10,"p":0.716},{"w":23.25,"L":11,"p":0.708},{"w":23.25,"L":12,"p":0.698},{"w":23.25,"L":13,"p":0.688},{"w":23.25,"L":14,"p":0.679},{"w":23.25,"L":15,"p":0.669},{"w":23.25,"L":16,"p":0.657},{"w":23.25,"L":17,"p":0.645},{"w":23.25,"L":18,"p":0.635},{"w":23.25,"L":19,"p":0.625},{"w":23.25,"L":20,"p":0.615},{"w":23.25,"L":21,"p":0.606},{"w":23.25,"L":22,"p":0.597},{"w":23.25,"L":23,"p":0.589},{"w":23.25,"L":24,"p":0.581},{"w":23.25,"L":25,"p":0.573},{"w":23.25,"L":26,"p":0.565},{"w":23.25,"L":27,"p":0.557},{"w":23.25,"L":28,"p":0.549},{"w":23.25,"L":29,"p":0.543},
{"w":23.75,"L":5,"p":0.670},{"w":23.75,"L":6,"p":0.701},{"w":23.75,"L":7,"p":0.717},{"w":23.75,"L":8,"p":0.723},{"w":23.75,"L":9,"p":0.723},{"w":23.75,"L":10,"p":0.719},{"w":23.75,"L":11,"p":0.712},{"w":23.75,"L":12,"p":0.703},{"w":23.75,"L":13,"p":0.694},{"w":23.75,"L":14,"p":0.685},{"w":23.75,"L":15,"p":0.675},{"w":23.75,"L":16,"p":0.665},{"w":23.75,"L":17,"p":0.654},{"w":23.75,"L":18,"p":0.643},{"w":23.75,"L":19,"p":0.633},{"w":23.75,"L":20,"p":0.623},{"w":23.75,"L":21,"p":0.614},{"w":23.75,"L":22,"p":0.605},{"w":23.75,"L":23,"p":0.597},{"w":23.75,"L":24,"p":0.589},{"w":23.75,"L":25,"p":0.581},{"w":23.75,"L":26,"p":0.574},{"w":23.75,"L":27,"p":0.566},{"w":23.75,"L":28,"p":0.558},{"w":23.75,"L":29,"p":0.552},
{"w":24.25,"L":5,"p":0.661},{"w":24.25,"L":6,"p":0.694},{"w":24.25,"L":7,"p":0.714},{"w":24.25,"L":8,"p":0.722},{"w":24.25,"L":9,"p":0.724},{"w":24.25,"L":10,"p":0.721},{"w":24.25,"L":11,"p":0.715},{"w":24.25,"L":12,"p":0.708},{"w":24.25,"L":13,"p":0.699},{"w":24.25,"L":14,"p":0.690},{"w":24.25,"L":15,"p":0.681},{"w":24.25,"L":16,"p":0.672},{"w":24.25,"L":17,"p":0.662},{"w":24.25,"L":18,"p":0.650},{"w":24.25,"L":19,"p":0.640},{"w":24.25,"L":20,"p":0.631},{"w":24.25,"L":21,"p":0.622},{"w":24.25,"L":22,"p":0.613},{"w":24.25,"L":23,"p":0.605},{"w":24.25,"L":24,"p":0.597},{"w":24.25,"L":25,"p":0.589},{"w":24.25,"L":26,"p":0.582},{"w":24.25,"L":27,"p":0.574},{"w":24.25,"L":28,"p":0.567},{"w":24.25,"L":29,"p":0.560},
{"w":24.75,"L":5,"p":0.652},{"w":24.75,"L":6,"p":0.687},{"w":24.75,"L":7,"p":0.709},{"w":24.75,"L":8,"p":0.720},{"w":24.75,"L":9,"p":0.724},{"w":24.75,"L":10,"p":0.723},{"w":24.75,"L":11,"p":0.718},{"w":24.75,"L":12,"p":0.712},{"w":24.75,"L":13,"p":0.704},{"w":24.75,"L":14,"p":0.695},{"w":24.75,"L":15,"p":0.686},{"w":24.75,"L":16,"p":0.678},{"w":24.75,"L":17,"p":0.669},{"w":24.75,"L":18,"p":0.658},{"w":24.75,"L":19,"p":0.648},{"w":24.75,"L":20,"p":0.639},{"w":24.75,"L":21,"p":0.630},{"w":24.75,"L":22,"p":0.621},{"w":24.75,"L":23,"p":0.613},{"w":24.75,"L":24,"p":0.604},{"w":24.75,"L":25,"p":0.597},{"w":24.75,"L":26,"p":0.590},{"w":24.75,"L":27,"p":0.582},{"w":24.75,"L":28,"p":0.575},{"w":24.75,"L":29,"p":0.568},
{"w":25.25,"L":5,"p":0.643},{"w":25.25,"L":6,"p":0.679},{"w":25.25,"L":7,"p":0.704},{"w":25.25,"L":8,"p":0.717},{"w":25.25,"L":9,"p":0.723},{"w":25.25,"L":10,"p":0.724},{"w":25.25,"L":11,"p":0.721},{"w":25.25,"L":12,"p":0.715},{"w":25.25,"L":13,"p":0.708},{"w":25.25,"L":14,"p":0.700},{"w":25.25,"L":15,"p":0.691},{"w":25.25,"L":16,"p":0.683},{"w":25.25,"L":17,"p":0.675},{"w":25.25,"L":18,"p":0.666},{"w":25.25,"L":19,"p":0.656},{"w":25.25,"L":20,"p":0.646},{"w":25.25,"L":21,"p":0.637},{"w":25.25,"L":22,"p":0.628},{"w":25.25,"L":23,"p":0.620},{"w":25.25,"L":24,"p":0.611},{"w":25.25,"L":25,"p":0.605},{"w":25.25,"L":26,"p":0.597},{"w":25.25,"L":27,"p":0.590},{"w":25.25,"L":28,"p":0.583},{"w":25.25,"L":29,"p":0.576},
{"w":25.75,"L":5,"p":0.632},{"w":25.75,"L":6,"p":0.671},{"w":25.75,"L":7,"p":0.698},{"w":25.75,"L":8,"p":0.714},{"w":25.75,"L":9,"p":0.722},{"w":25.75,"L":10,"p":0.724},{"w":25.75,"L":11,"p":0.723},{"w":25.75,"L":12,"p":0.718},{"w":25.75,"L":13,"p":0.712},{"w":25.75,"L":14,"p":0.705},{"w":25.75,"L":15,"p":0.696},{"w":25.75,"L":16,"p":0.688},{"w":25.75,"L":17,"p":0.681},{"w":25.75,"L":18,"p":0.672},{"w":25.75,"L":19,"p":0.664},{"w":25.75,"L":20,"p":0.654},{"w":25.75,"L":21,"p":0.645},{"w":25.75,"L":22,"p":0.636},{"w":25.75,"L":23,"p":0.628},{"w":25.75,"L":24,"p":0.619},{"w":25.75,"L":25,"p":0.612},{"w":25.75,"L":26,"p":0.604},{"w":25.75,"L":27,"p":0.598},{"w":25.75,"L":28,"p":0.591},{"w":25.75,"L":29,"p":0.584},
{"w":26.25,"L":5,"p":0.621},{"w":26.25,"L":6,"p":0.663},{"w":26.25,"L":7,"p":0.692},{"w":26.25,"L":8,"p":0.710},{"w":26.25,"L":9,"p":0.720},{"w":26.25,"L":10,"p":0.724},{"w":26.25,"L":11,"p":0.724},{"w":26.25,"L":12,"p":0.720},{"w":26.25,"L":13,"p":0.715},{"w":26.25,"L":14,"p":0.709},{"w":26.25,"L":15,"p":0.701},{"w":26.25,"L":16,"p":0.693},{"w":26.25,"L":17,"p":0.686},{"w":26.25,"L":18,"p":0.678},{"w":26.25,"L":19,"p":0.671},{"w":26.25,"L":20,"p":0.661},{"w":26.25,"L":21,"p":0.652},{"w":26.25,"L":22,"p":0.643},{"w":26.25,"L":23,"p":0.635},{"w":26.25,"L":24,"p":0.627},{"w":26.25,"L":25,"p":0.619},{"w":26.25,"L":26,"p":0.611},{"w":26.25,"L":27,"p":0.605},{"w":26.25,"L":28,"p":0.598},{"w":26.25,"L":29,"p":0.592},
{"w":26.75,"L":5,"p":0.610},{"w":26.75,"L":6,"p":0.655},{"w":26.75,"L":7,"p":0.685},{"w":26.75,"L":8,"p":0.705},{"w":26.75,"L":9,"p":0.718},{"w":26.75,"L":10,"p":0.723},{"w":26.75,"L":11,"p":0.724},{"w":26.75,"L":12,"p":0.722},{"w":26.75,"L":13,"p":0.718},{"w":26.75,"L":14,"p":0.712},{"w":26.75,"L":15,"p":0.705},{"w":26.75,"L":16,"p":0.698},{"w":26.75,"L":17,"p":0.691},{"w":26.75,"L":18,"p":0.683},{"w":26.75,"L":19,"p":0.676},{"w":26.75,"L":20,"p":0.668},{"w":26.75,"L":21,"p":0.660},{"w":26.75,"L":22,"p":0.650},{"w":26.75,"L":23,"p":0.642},{"w":26.75,"L":24,"p":0.634},{"w":26.75,"L":25,"p":0.626},{"w":26.75,"L":26,"p":0.619},{"w":26.75,"L":27,"p":0.612},{"w":26.75,"L":28,"p":0.605},{"w":26.75,"L":29,"p":0.599},
{"w":27.25,"L":5,"p":0.598},{"w":27.25,"L":6,"p":0.647},{"w":27.25,"L":7,"p":0.677},{"w":27.25,"L":8,"p":0.700},{"w":27.25,"L":9,"p":0.715},{"w":27.25,"L":10,"p":0.722},{"w":27.25,"L":11,"p":0.724},{"w":27.25,"L":12,"p":0.723},{"w":27.25,"L":13,"p":0.720},{"w":27.25,"L":14,"p":0.715},{"w":27.25,"L":15,"p":0.709},{"w":27.25,"L":16,"p":0.702},{"w":27.25,"L":17,"p":0.695},{"w":27.25,"L":18,"p":0.688},{"w":27.25,"L":19,"p":0.681},{"w":27.25,"L":20,"p":0.674},{"w":27.25,"L":21,"p":0.667},{"w":27.25,"L":22,"p":0.657},{"w":27.25,"L":23,"p":0.649},{"w":27.25,"L":24,"p":0.641},{"w":27.25,"L":25,"p":0.633},{"w":27.25,"L":26,"p":0.626},{"w":27.25,"L":27,"p":0.619},{"w":27.25,"L":28,"p":0.611},{"w":27.25,"L":29,"p":0.606},
{"w":27.75,"L":5,"p":0.588},{"w":27.75,"L":6,"p":0.637},{"w":27.75,"L":7,"p":0.670},{"w":27.75,"L":8,"p":0.694},{"w":27.75,"L":9,"p":0.711},{"w":27.75,"L":10,"p":0.720},{"w":27.75,"L":11,"p":0.723},{"w":27.75,"L":12,"p":0.724},{"w":27.75,"L":13,"p":0.722},{"w":27.75,"L":14,"p":0.718},{"w":27.75,"L":15,"p":0.713},{"w":27.75,"L":16,"p":0.706},{"w":27.75,"L":17,"p":0.700},{"w":27.75,"L":18,"p":0.693},{"w":27.75,"L":19,"p":0.686},{"w":27.75,"L":20,"p":0.679},{"w":27.75,"L":21,"p":0.672},{"w":27.75,"L":22,"p":0.664},{"w":27.75,"L":23,"p":0.656},{"w":27.75,"L":24,"p":0.648},{"w":27.75,"L":25,"p":0.640},{"w":27.75,"L":26,"p":0.633},{"w":27.75,"L":27,"p":0.626},{"w":27.75,"L":28,"p":0.619},{"w":27.75,"L":29,"p":0.613},
{"w":28.25,"L":5,"p":0.577},{"w":28.25,"L":6,"p":0.627},{"w":28.25,"L":7,"p":0.662},{"w":28.25,"L":8,"p":0.688},{"w":28.25,"L":9,"p":0.706},{"w":28.25,"L":10,"p":0.717},{"w":28.25,"L":11,"p":0.722},{"w":28.25,"L":12,"p":0.724},{"w":28.25,"L":13,"p":0.723},{"w":28.25,"L":14,"p":0.720},{"w":28.25,"L":15,"p":0.716},{"w":28.25,"L":16,"p":0.710},{"w":28.25,"L":17,"p":0.704},{"w":28.25,"L":18,"p":0.697},{"w":28.25,"L":19,"p":0.690},{"w":28.25,"L":20,"p":0.684},{"w":28.25,"L":21,"p":0.677},{"w":28.25,"L":22,"p":0.671},{"w":28.25,"L":23,"p":0.663},{"w":28.25,"L":24,"p":0.655},{"w":28.25,"L":25,"p":0.647},{"w":28.25,"L":26,"p":0.640},{"w":28.25,"L":27,"p":0.632},{"w":28.25,"L":28,"p":0.626},{"w":28.25,"L":29,"p":0.619},
{"w":28.75,"L":5,"p":0.568},{"w":28.75,"L":6,"p":0.617},{"w":28.75,"L":7,"p":0.655},{"w":28.75,"L":8,"p":0.681},{"w":28.75,"L":9,"p":0.701},{"w":28.75,"L":10,"p":0.714},{"w":28.75,"L":11,"p":0.720},{"w":28.75,"L":12,"p":0.724},{"w":28.75,"L":13,"p":0.724},{"w":28.75,"L":14,"p":0.722},{"w":28.75,"L":15,"p":0.718},{"w":28.75,"L":16,"p":0.713},{"w":28.75,"L":17,"p":0.708},{"w":28.75,"L":18,"p":0.701},{"w":28.75,"L":19,"p":0.695},{"w":28.75,"L":20,"p":0.689},{"w":28.75,"L":21,"p":0.682},{"w":28.75,"L":22,"p":0.676},{"w":28.75,"L":23,"p":0.669},{"w":28.75,"L":24,"p":0.662},{"w":28.75,"L":25,"p":0.654},{"w":28.75,"L":26,"p":0.647},{"w":28.75,"L":27,"p":0.639},{"w":28.75,"L":28,"p":0.633},{"w":28.75,"L":29,"p":0.626},
{"w":29.25,"L":5,"p":0.558},{"w":29.25,"L":6,"p":0.607},{"w":29.25,"L":7,"p":0.647},{"w":29.25,"L":8,"p":0.674},{"w":29.25,"L":9,"p":0.695},{"w":29.25,"L":10,"p":0.710},{"w":29.25,"L":11,"p":0.718},{"w":29.25,"L":12,"p":0.723},{"w":29.25,"L":13,"p":0.724},{"w":29.25,"L":14,"p":0.723},{"w":29.25,"L":15,"p":0.720},{"w":29.25,"L":16,"p":0.716},{"w":29.25,"L":17,"p":0.711},{"w":29.25,"L":18,"p":0.705},{"w":29.25,"L":19,"p":0.699},{"w":29.25,"L":20,"p":0.693},{"w":29.25,"L":21,"p":0.687},{"w":29.25,"L":22,"p":0.680},{"w":29.25,"L":23,"p":0.674},{"w":29.25,"L":24,"p":0.668},{"w":29.25,"L":25,"p":0.660},{"w":29.25,"L":26,"p":0.653},{"w":29.25,"L":27,"p":0.646},{"w":29.25,"L":28,"p":0.639},{"w":29.25,"L":29,"p":0.632},
{"w":29.75,"L":5,"p":0.548},{"w":29.75,"L":6,"p":0.596},{"w":29.75,"L":7,"p":0.639},{"w":29.75,"L":8,"p":0.667},{"w":29.75,"L":9,"p":0.690},{"w":29.75,"L":10,"p":0.706},{"w":29.75,"L":11,"p":0.716},{"w":29.75,"L":12,"p":0.722},{"w":29.75,"L":13,"p":0.724},{"w":29.75,"L":14,"p":0.724},{"w":29.75,"L":15,"p":0.722},{"w":29.75,"L":16,"p":0.719},{"w":29.75,"L":17,"p":0.714},{"w":29.75,"L":18,"p":0.709},{"w":29.75,"L":19,"p":0.703},{"w":29.75,"L":20,"p":0.697},{"w":29.75,"L":21,"p":0.691},{"w":29.75,"L":22,"p":0.685},{"w":29.75,"L":23,"p":0.679},{"w":29.75,"L":24,"p":0.673},{"w":29.75,"L":25,"p":0.667},{"w":29.75,"L":26,"p":0.660},{"w":29.75,"L":27,"p":0.652},{"w":29.75,"L":28,"p":0.645},{"w":29.75,"L":29,"p":0.639}
]},
"mark": {"type": "rect", "binSpacing": 0, "clip": true},
"encoding": {
 "x": {"field": "w", "type": "quantitative", "bin": {"binned": true, "step": 0.53},
   "scale": {"domain": [5, 30], "nice": false, "zero": false},
   "axis": {"values": [5, 10, 15, 20, 25, 30], "format": "d", "labelPadding": 4, "titlePadding": 12, "title": "pump beam waist wₚ (μm)"}},
 "y": {"field": "L", "type": "quantitative", "bin": {"binned": true, "step": 1.05},
   "scale": {"domain": [5, 30], "nice": false, "zero": false},
   "axis": {"values": [5, 10, 15, 20, 25, 30], "format": "d", "labelPadding": 3, "titlePadding": 6, "title": "crystal length L (mm)"}},
 "color": {"field": "p", "type": "quantitative",
   "scale": {"domain": [0.096, 0.2, 0.3, 0.39, 0.5, 0.6, 0.65, 0.7, 0.74], "range": ["#3253EA", "#7B93EE", "#C3CCF4", "#F3F3F3", "#F9F168", "#E8A03E", "#DF6E35", "#D5332C", "#D42A2A"]},
   "legend": {"type": "gradient", "orient": "none", "legendX": 291, "legendY": 47, "direction": "vertical", "gradientLength": 182, "gradientThickness": 13, "title": null, "values": [0.1, 0.2, 0.3, 0.4, 0.5, 0.6, 0.7], "format": ".1f", "labelFontSize": 16, "labelColor": "#333", "labelOffset": 6, "labelBaseline": "middle", "gradientStrokeWidth": 0}}
}
},
{
"data": {"values": [
{"w":15.9,"L":5.0},{"w":17,"L":5.72},{"w":18,"L":6.42},{"w":19,"L":7.15},{"w":20,"L":7.92},{"w":21,"L":8.73},{"w":22,"L":9.58},{"w":23,"L":10.48},{"w":24,"L":11.41},{"w":25,"L":12.38},{"w":26,"L":13.39},{"w":27,"L":14.44},{"w":28,"L":15.52},{"w":29,"L":16.65},{"w":30,"L":17.82}
]},
"mark": {"type": "line", "color": "#111", "strokeWidth": 1.6, "strokeDash": [3, 3]},
"encoding": {
 "x": {"field": "w", "type": "quantitative", "axis": {"orient": "top", "values": [5,6,7,8,9,10,11,12,13,14,15,16,17,18,19,20,21,22,23,24,25,26,27,28,29,30], "labels": false, "title": null, "tickSize": 3, "tickColor": "#bbb"}},
 "y": {"field": "L", "type": "quantitative", "axis": {"orient": "right", "values": [5,6,7,8,9,10,11,12,13,14,15,16,17,18,19,20,21,22,23,24,25,26,27,28,29,30], "labels": false, "title": null, "tickSize": 3, "tickColor": "#bbb"}}
}
},
{
"data": {"values": [{"w": 25.0, "L": 17.0, "label": "ξₚ=1.42"}]},
"mark": {"type": "text", "fontSize": 18, "color": "#111", "align": "center", "baseline": "middle"},
"encoding": {
 "x": {"field": "w", "type": "quantitative", "axis": null},
 "y": {"field": "L", "type": "quantitative", "axis": null},
 "text": {"field": "label"}
}
}
]
}
